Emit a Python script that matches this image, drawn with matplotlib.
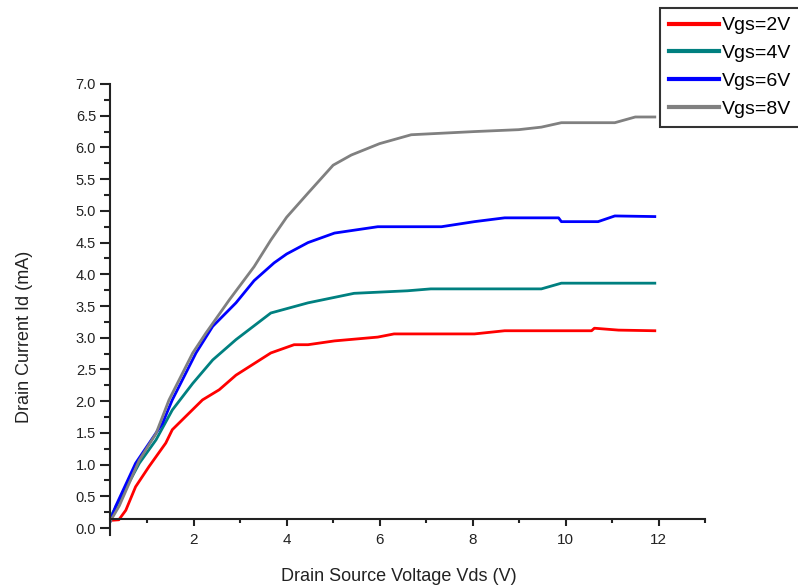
import matplotlib.pyplot as plt
from matplotlib.ticker import MultipleLocator, FormatStrFormatter

plt.rcParams['font.family'] = ['Liberation Sans', 'DejaVu Sans']

# Output characteristics, Vds in V and Id in mA
labels = ['Vgs=2V', 'Vgs=4V', 'Vgs=6V', 'Vgs=8V']
colors = ['#ff0000', '#008080', '#0000ff', '#808080']

vds_2v = [0.2, 0.39, 0.54, 0.75, 1.04, 1.40, 1.54, 1.83, 2.19, 2.55, 2.91, 3.66,
          4.16, 4.46, 5.03, 5.96, 6.31, 8.04, 8.69, 10.56, 10.62, 11.14, 11.92]
id_2v = [0.12, 0.13, 0.28, 0.65, 0.97, 1.34, 1.55, 1.76, 2.02, 2.18, 2.41, 2.76,
         2.89, 2.89, 2.95, 3.01, 3.06, 3.06, 3.11, 3.11, 3.15, 3.12, 3.11]

vds_4v = [0.2, 0.25, 0.83, 1.19, 1.54, 1.98, 2.41, 2.91, 3.66, 4.46, 5.45, 6.6,
          7.1, 9.48, 9.91, 11.92]
id_4v = [0.1, 0.23, 1.02, 1.39, 1.86, 2.28, 2.65, 2.97, 3.39, 3.55, 3.70, 3.74,
         3.77, 3.77, 3.86, 3.86]

vds_6v = [0.2, 0.32, 0.75, 1.33, 1.54, 2.05, 2.41, 2.91, 3.3, 3.73, 4.0, 4.46,
          5.03, 5.96, 7.33, 8.04, 8.69, 9.85, 9.91, 10.7, 11.06, 11.92]
id_6v = [0.1, 0.34, 1.02, 1.65, 2.02, 2.76, 3.18, 3.55, 3.90, 4.18, 4.32, 4.50,
         4.65, 4.75, 4.75, 4.83, 4.89, 4.89, 4.83, 4.83, 4.92, 4.91]

vds_8v = [0.2, 0.4, 0.83, 1.19, 1.47, 1.98, 2.26, 2.77, 3.3, 3.66, 4.0, 4.46,
          5.0, 5.39, 6.0, 6.68, 8.04, 8.99, 9.48, 9.91, 11.06, 11.5, 11.92]
id_8v = [0.1, 0.35, 1.07, 1.49, 2.02, 2.76, 3.07, 3.60, 4.12, 4.54, 4.90, 5.28,
         5.72, 5.88, 6.06, 6.20, 6.25, 6.28, 6.32, 6.39, 6.39, 6.48, 6.48]

series = [(vds_2v, id_2v), (vds_4v, id_4v), (vds_6v, id_6v), (vds_8v, id_8v)]

W, H = 798, 588
fig = plt.figure(figsize=(W / 100, H / 100), dpi=100)
ax = fig.add_axes([110 / W, 1 - 535 / H, 595 / W, 451 / H])

for (x, y), lab, c in zip(series, labels, colors):
    ax.plot(x, y, color=c, lw=2.0, label=lab)

ax.set_xlim(0.2, 13.0)
ax.set_ylim(-0.11, 7.0)

# x axis sits a little above zero, like the original Origin plot
ax.spines['bottom'].set_position(('data', 0.14))
ax.spines['top'].set_visible(False)
ax.spines['right'].set_visible(False)
for s in ('left', 'bottom'):
    ax.spines[s].set_linewidth(1.5)
    ax.spines[s].set_color('#222222')

ax.xaxis.set_major_locator(MultipleLocator(2))
ax.xaxis.set_minor_locator(MultipleLocator(1))
ax.yaxis.set_major_locator(MultipleLocator(0.5))
ax.yaxis.set_minor_locator(MultipleLocator(0.25))
ax.yaxis.set_major_formatter(FormatStrFormatter('%.1f'))
ax.set_xticks([2, 4, 6, 8, 10, 12])

ax.tick_params(axis='y', which='major', direction='out', length=7, width=1.5,
               labelsize=10.5, colors='#222222', pad=3)
ax.tick_params(axis='y', which='minor', direction='out', length=4, width=1.5,
               colors='#222222')
ax.tick_params(axis='x', which='major', direction='out', length=5, width=1.5,
               labelsize=11, colors='#222222', pad=5)
ax.tick_params(axis='x', which='minor', direction='out', length=3, width=1.5,
               colors='#222222')

ax.set_xlabel('Drain Source Voltage Vds (V)', fontsize=13, color='#222222')
ax.set_ylabel('Drain Current Id (mA)', fontsize=13, color='#222222')
ax.xaxis.set_label_coords(0.486, -0.073)
ax.yaxis.set_label_coords(-0.129, 0.44)

leg = fig.legend(loc='upper left', bbox_to_anchor=(660 / W, 1 - 8 / H),
                 fontsize=14, frameon=True, fancybox=False, borderaxespad=0,
                 handlelength=2.6, handletextpad=0.15, labelspacing=0.53,
                 borderpad=0.45)
leg.get_frame().set_edgecolor('black')
leg.get_frame().set_linewidth(1.5)
for line in leg.get_lines():
    line.set_linewidth(3)

fig.savefig('out.png', dpi=100)
